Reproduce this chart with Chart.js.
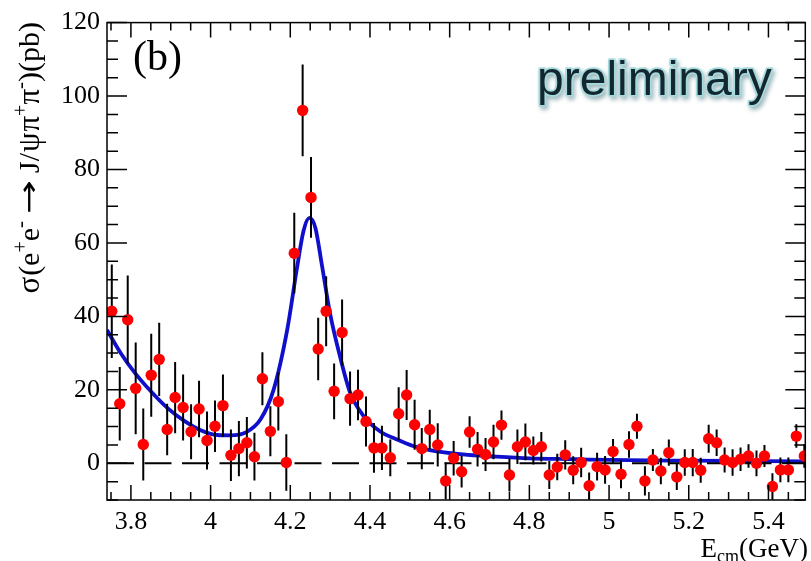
<!DOCTYPE html>
<html><head><meta charset="utf-8">
<script src="https://cdn.jsdelivr.net/npm/chart.js@4/dist/chart.umd.min.js"></script>
<style>html,body{margin:0;padding:0;background:#fff;}#wrap{width:811px;height:561px;}</style>
</head><body><div id="wrap"><canvas id="c" width="811" height="561"></canvas></div>
<script>
// ---- data ----
const energies = [3.752,3.772,3.792,3.812,3.831,3.851,3.871,3.891,3.911,3.931,3.951,3.971,3.991,4.011,4.031,4.051,4.071,4.091,
4.110,4.130,4.150,4.170,4.190,4.210,4.231,4.252,4.270,4.290,4.310,4.330,4.350,4.370,4.390,4.410,4.430,
4.451,4.472,4.492,4.512,4.530,4.550,4.570,4.590,4.610,4.630,4.650,4.670,4.690,4.710,4.730,4.750,4.770,4.790,
4.810,4.830,4.850,4.870,4.890,4.910,4.930,4.950,4.970,4.990,5.010,5.030,5.050,5.070,5.090,5.110,5.130,5.150,
5.170,5.190,5.210,5.230,5.250,5.270,5.290,5.310,5.330,5.350,5.370,5.390,5.410,5.430,5.450,5.470,5.490];
const xsec = [41.4,16.2,39.1,20.4,5.1,24.0,28.3,9.2,17.9,15.2,
8.6,14.8,6.2,10.1,15.7,2.2,4.0,5.6,1.8,23.0,
8.7,16.8,0.2,57.2,96.1,72.4,31.1,41.4,19.6,35.6,
17.6,18.6,11.4,4.2,4.2,1.5,13.5,18.6,10.5,4.0,
9.2,5.0,-4.8,1.4,-2.3,8.5,3.8,2.4,5.8,10.4,
-3.2,4.5,5.8,3.5,4.5,-3.2,-1.0,2.3,-1.9,0.2,
-6.1,-0.9,-1.8,3.2,-3.0,5.1,10.1,-4.8,0.9,-2.1,
2.9,-3.7,0.2,0.2,-1.9,6.7,5.6,0.9,0.2,1.1,
2.0,0.0,2.0,-6.3,-1.8,-1.8,7.4,2.0];
const xsecErr = [12.7,10,12,12.5,9.8,11.3,10,7,9.7,9,
7.5,7.7,7.9,7,8.5,7,7.5,7,6.5,7.2,
6.8,7.9,7.7,11,12.5,11,8.5,9.5,7.6,9,
7.4,6.9,6.8,6.8,6,5,7.2,6.8,6.8,5.6,
5.4,5.9,5,4.7,4.3,4.3,4.7,4.5,4.7,4,
4.5,4.7,5,3.8,4,3.8,3.6,4,3.8,4,
3.6,3.8,3.8,3.4,3.8,3.6,3.4,4,3,3.6,
3.6,3.6,3.6,3.7,3.4,3.8,3.6,3.4,3.6,3.2,
3.2,3.5,3,3.6,3.4,3.4,3.2,3.2];
const fitE    = [3.740,3.775,3.808,3.850,3.892,3.933,3.975,4.017,4.050,4.090,4.125,4.158,4.192,4.217,4.233,4.248,4.263,4.279,4.300,4.325,4.350,4.383,4.425,4.467,4.508,4.550,4.633,4.717,4.800,4.917,5.000,5.200,5.4925];
const fitXsec = [36.3,29.9,24.9,19.6,15.0,11.6,9.0,7.7,7.6,8.5,11.9,20.0,36.2,53.3,63.2,66.8,64.1,54.2,40.7,29.0,19.3,13.0,8.7,6.5,4.7,3.6,2.4,1.8,1.35,1.1,0.9,0.7,0.5];
const xTickValues = [3.8,4.0,4.2,4.4,4.6,4.8,5.0,5.2,5.4];
const xTickLabels = ['3.8','4','4.2','4.4','4.6','4.8','5','5.2','5.4'];
const yTickValues = [0,20,40,60,80,100,120];
const yTickLabels = ['0','20','40','60','80','100','120'];
const X_MIN = 3.74, X_MAX = 5.4925, Y_MIN = -10, Y_MAX = 120;

const SERIF = '"Liberation Serif","Times New Roman",serif';

const deco = {
  id: 'deco',
  beforeDatasetDraw(chart, args) {
    if (args.index !== 0) return;
    const {ctx, chartArea: a, scales: {x, y}} = chart;
    ctx.save();
    ctx.strokeStyle = '#000'; ctx.lineWidth = 2;
    ctx.beginPath();
    energies.forEach((e, i) => {
      const px = x.getPixelForValue(e);
      const t = Math.max(a.top, y.getPixelForValue(xsec[i] + xsecErr[i]));
      const b = Math.min(a.bottom, y.getPixelForValue(xsec[i] - xsecErr[i]));
      ctx.moveTo(px, t); ctx.lineTo(px, b);
    });
    ctx.stroke();
    ctx.restore();
  },
  afterDraw(chart) {
    const {ctx, chartArea: a, scales: {x, y}} = chart;
    ctx.save();
    ctx.strokeStyle = '#000'; ctx.lineWidth = 1.5;
    ctx.strokeRect(a.left, a.top, a.right - a.left, a.bottom - a.top);
    ctx.beginPath();
    for (let k = 0; k <= 40; k++) {
      const v = 3.75 + k * 0.05;
      if (v > X_MAX) break;
      const major = xTickValues.some(t => Math.abs(t - v) < 1e-6);
      const len = major ? 15 : 8;
      const px = x.getPixelForValue(v);
      ctx.moveTo(px, a.bottom); ctx.lineTo(px, a.bottom - len);
      ctx.moveTo(px, a.top); ctx.lineTo(px, a.top + len);
    }
    for (let v = -10; v <= Y_MAX; v += 5) {
      const major = yTickValues.includes(v);
      const len = major ? 20 : 11;
      const py = y.getPixelForValue(v);
      ctx.moveTo(a.left, py); ctx.lineTo(a.left + len, py);
      ctx.moveTo(a.right, py); ctx.lineTo(a.right - len, py);
    }
    ctx.stroke();

    // (b)
    ctx.fillStyle = '#000';
    ctx.font = '42px ' + SERIF;
    ctx.textBaseline = 'alphabetic';
    ctx.textAlign = 'left';
    ctx.fillText('(b)', 133, 70);

    // preliminary
    ctx.font = '48px "Liberation Sans",Arial,sans-serif';
    ctx.save();
    ctx.shadowColor = 'rgba(70,120,130,0.55)';
    ctx.shadowOffsetX = 2; ctx.shadowOffsetY = 3; ctx.shadowBlur = 4;
    ctx.strokeStyle = '#a6dadc'; ctx.lineWidth = 3.5; ctx.lineJoin = 'round';
    ctx.strokeText('preliminary', 537, 95);
    ctx.restore();
    ctx.fillStyle = '#132730';
    ctx.fillText('preliminary', 537, 95);

    // x title: E_cm(GeV)
    ctx.fillStyle = '#000';
    const big = '27px ' + SERIF, small = '18px ' + SERIF;
    ctx.font = big; const wE = ctx.measureText('E').width, wG = ctx.measureText('(GeV)').width;
    ctx.font = small; const wc = ctx.measureText('cm').width;
    let xs = 808 - (wE + wc + wG);
    const base = 557;
    ctx.font = big; ctx.fillText('E', xs, base); xs += wE;
    ctx.font = small; ctx.fillText('cm', xs, base + 5); xs += wc;
    ctx.font = big; ctx.fillText('(GeV)', xs, base);

    // y title: sigma(e+e- -> J/psi pi+ pi-)(pb), rotated
    // [text, fontSize, baselineShift, horizontalStretch, extraGapAfter, fontFamily]
    const SANS = '"DejaVu Sans",sans-serif';
    const segs = [
      ['\u03c3', 31, 0, 1, 1, SERIF], ['(e', 30, 0, 1, 0, SERIF], ['+', 20, -12, 1, 0, SERIF], ['e', 30, 0, 1, 0, SERIF], ['-', 21, -12, 1, 7, SERIF],
      ['\u2192', 28, -1, 1.45, 7, SANS], ['J/', 30, 0, 1, 1, SERIF], ['\u03c8', 31, 0, 1, 1, SERIF], ['\u03c0', 31, 0, 1, 0, SERIF], ['+', 20, -12, 1, 0, SERIF],
      ['\u03c0', 31, 0, 1, 0, SERIF], ['-', 21, -12, 1, 0, SERIF], [')(pb)', 30, 0, 1, 0, SERIF]
    ];
    let total = 0;
    segs.forEach(s => { ctx.font = s[1] + 'px ' + s[5]; s.push(ctx.measureText(s[0]).width * s[3]); total += s[6] + s[4]; });
    ctx.translate(39, 22 + total);
    ctx.rotate(-Math.PI / 2);
    let off = 0;
    segs.forEach(s => {
      ctx.font = s[1] + 'px ' + s[5];
      ctx.save();
      ctx.translate(off, s[2]);
      ctx.scale(s[3], 1);
      ctx.fillText(s[0], 0, 0);
      ctx.restore();
      off += s[6] + s[4];
    });
    ctx.restore();
  }
};

new Chart(document.getElementById('c'), {
  type: 'scatter',
  data: {
    datasets: [
      { label: 'data', data: energies.map((e, i) => ({x: e, y: xsec[i]})),
        pointRadius: 5.7, pointBackgroundColor: '#ff0000', pointBorderColor: '#ff0000', pointBorderWidth: 0,
        showLine: false, order: 0 },
      { label: 'zero', type: 'line', data: [{x: X_MIN, y: 0}, {x: X_MAX, y: 0}],
        borderColor: '#000', borderWidth: 2, borderDash: [27, 10.5], pointRadius: 0, order: 1 },
      { label: 'fit', type: 'line', data: fitE.map((e, i) => ({x: e, y: fitXsec[i]})),
        borderColor: '#1010cc', borderWidth: 3.8, pointRadius: 0, cubicInterpolationMode: 'monotone', order: 2 }
    ]
  },
  options: {
    responsive: false, animation: false, devicePixelRatio: 1,
    layout: {padding: {top: 20, right: 4, left: 0, bottom: 0}},
    plugins: {legend: {display: false}, tooltip: {enabled: false}},
    scales: {
      x: { type: 'linear', min: X_MIN, max: X_MAX,
        grid: {display: false, drawTicks: false}, border: {display: false},
        afterBuildTicks: s => { s.ticks = xTickValues.map(v => ({value: v})); },
        afterFit: s => { s.height = 61; },
        ticks: {autoSkip: false, maxRotation: 0, padding: 7, color: '#000',
          font: {family: SERIF, size: 26}, callback: (v, i) => xTickLabels[i]} },
      y: { type: 'linear', min: Y_MIN, max: Y_MAX,
        grid: {display: false, drawTicks: false}, border: {display: false},
        afterBuildTicks: s => { s.ticks = yTickValues.map(v => ({value: v})); },
        afterFit: s => { s.width = 107; },
        ticks: {autoSkip: false, padding: 7, color: '#000',
          font: {family: SERIF, size: 26}, callback: (v, i) => yTickLabels[i]} }
    }
  },
  plugins: [deco]
});
</script></body></html>
